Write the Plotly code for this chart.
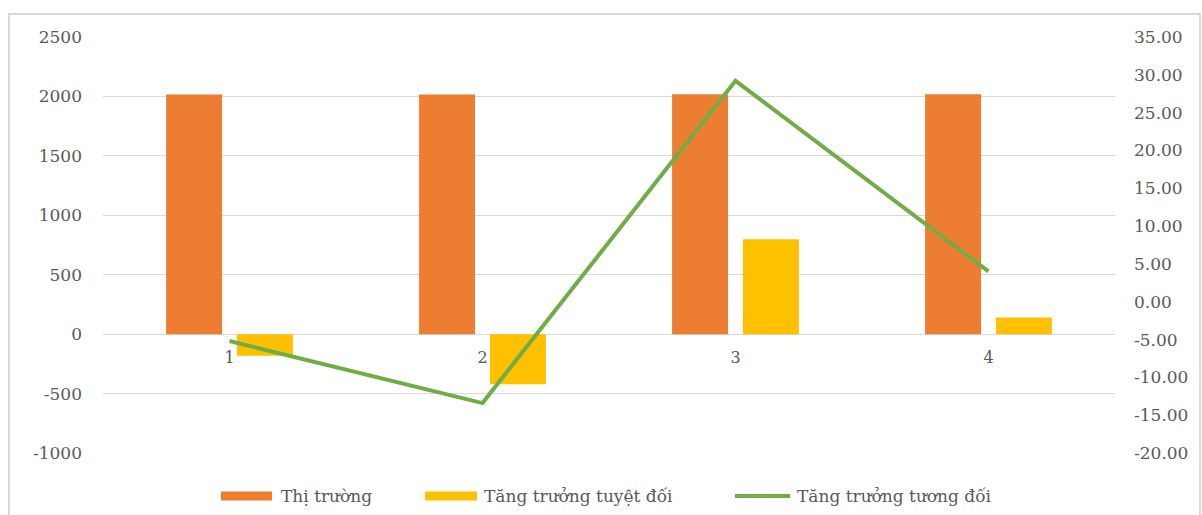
import plotly.graph_objects as go

categories = [1, 2, 3, 4]
thi_truong = [2016, 2017, 2018, 2019]
tang_truong_tuyet_doi = [-182, -422, 798, 141]
tang_truong_tuong_doi = [-5.2, -13.4, 29.2, 4.0]
left_ticks = [-1000, -500, 0, 500, 1000, 1500, 2000, 2500]
right_ticks = [-20, -15, -10, -5, 0, 5, 10, 15, 20, 25, 30, 35]
series_names = ["Thị trường", "Tăng trưởng tuyệt đối", "Tăng trưởng tương đối"]
series_colors = ["#ED7D31", "#FFC000", "#70AD47"]

FONT = "DejaVu Serif"
GRAY = "#595959"

# plot area in pixels (for converting legend placement)
PL, PR, PT, PB = 103, 1115, 37, 453
W, H = 1202, 515


def px(x):
    return (x - PL) / (PR - PL)


def py(y):
    return (PB - y) / (PB - PT)


fig = go.Figure()
fig.add_trace(go.Bar(x=categories, y=thi_truong, name=series_names[0],
                     marker=dict(color=series_colors[0], line=dict(width=0))))
fig.add_trace(go.Bar(x=categories, y=tang_truong_tuyet_doi, name=series_names[1],
                     marker=dict(color=series_colors[1], line=dict(width=0))))
fig.add_trace(go.Scatter(x=categories, y=tang_truong_tuong_doi, name=series_names[2],
                         mode="lines", line=dict(color=series_colors[2], width=4), yaxis="y2"))

shapes = [dict(type="rect", xref="paper", yref="paper",
               x0=px(9), x1=px(1200), y0=py(530), y1=py(14),
               line=dict(color="#D9D9D9", width=2), fillcolor="rgba(0,0,0,0)",
               layer="below")]
annotations = []

# manual legend (Excel style wide swatches)
leg_y = 496
swatches = [(221, 272), (425, 477), (735, 790)]
text_x = [279, 482, 795]
for i, (a, b) in enumerate(swatches):
    if i < 2:
        shapes.append(dict(type="rect", xref="paper", yref="paper",
                           x0=px(a), x1=px(b), y0=py(leg_y + 4.5), y1=py(leg_y - 4.5),
                           line=dict(width=0), fillcolor=series_colors[i]))
    else:
        shapes.append(dict(type="line", xref="paper", yref="paper",
                           x0=px(a), x1=px(b), y0=py(leg_y), y1=py(leg_y),
                           line=dict(color=series_colors[i], width=4)))
    annotations.append(dict(xref="paper", yref="paper", x=px(text_x[i]), y=py(leg_y),
                            xanchor="left", yanchor="middle", showarrow=False,
                            text=series_names[i],
                            font=dict(family=FONT, size=17, color=GRAY)))

fig.update_layout(
    width=W, height=H,
    margin=dict(l=PL, r=W - PR, t=PT, b=H - PB, autoexpand=False),
    paper_bgcolor="white", plot_bgcolor="white",
    barmode="group", bargap=0.44, bargroupgap=0.21,
    font=dict(family=FONT, color=GRAY, size=16),
    showlegend=False,
    xaxis=dict(
        range=[0.5, 4.5], tickvals=categories, ticktext=[str(c) for c in categories],
        showgrid=False, showline=False, zeroline=False, automargin=False,
        anchor="free", position=1000 / 3500,
        ticks="", ticklabelstandoff=12,
        tickfont=dict(size=16, color=GRAY, family=FONT),
    ),
    yaxis=dict(
        range=[-1000, 2500], tickvals=left_ticks, ticktext=[str(v) for v in left_ticks],
        automargin=False,
        showgrid=True, gridcolor="#D9D9D9", gridwidth=1,
        zeroline=True, zerolinecolor="#D9D9D9", zerolinewidth=1,
        showline=False, ticks="", ticklabelstandoff=20,
        tickfont=dict(size=17, color=GRAY, family=FONT),
    ),
    yaxis2=dict(
        range=[-20, 35], tickvals=right_ticks, ticktext=[f"{v:.2f}" for v in right_ticks],
        automargin=False,
        overlaying="y", side="right", showgrid=False, zeroline=False,
        showline=False, ticks="", ticklabelstandoff=18,
        tickfont=dict(size=17, color=GRAY, family=FONT),
    ),
    shapes=shapes,
    annotations=annotations,
)

fig.write_html("out.html")
